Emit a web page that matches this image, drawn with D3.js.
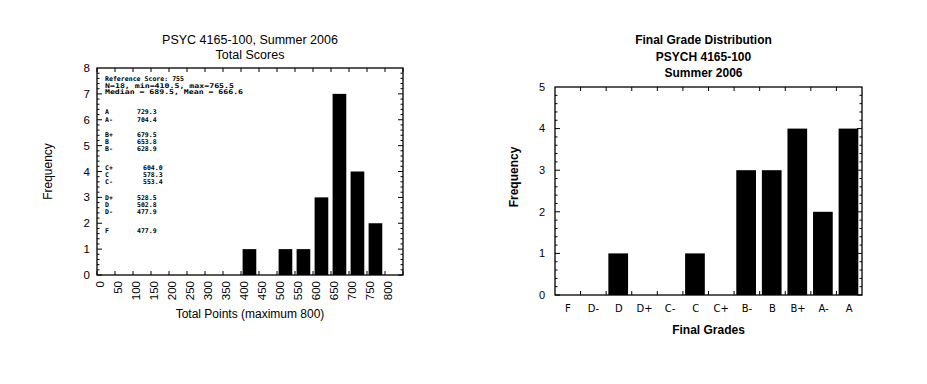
<!DOCTYPE html>
<html>
<head>
<meta charset="utf-8">
<script src="https://cdn.jsdelivr.net/npm/d3@7"></script>
<style>
  body { margin: 0; background: #fff; }
  svg { display: block; }
</style>
</head>
<body>
<div id="container"></div>
<script>
// left histogram: bin start (points) and frequency
const scoreBins = [400, 450, 500, 550, 600, 650, 700, 750];
const scoreFreq = [1, 0, 1, 1, 3, 7, 4, 2];
const scoreTicks = d3.range(0, 801, 50);

// reference notes printed inside the left plot
const noteHeader = ['Reference Score: 755', 'N=18, min=410.5, max=765.5', 'Median = 689.5, Mean = 666.6'];
const cutGrades = ['A', 'A-', 'B+', 'B', 'B-', 'C+', 'C', 'C-', 'D+', 'D', 'D-', 'F'];
const cutScores = ['729.3', '704.4', '679.5', '653.8', '628.9', '604.0', '578.3', '553.4', '528.5', '502.8', '477.9', '477.9'];

// right bar chart: final grades
const grades = ['F', 'D-', 'D', 'D+', 'C-', 'C', 'C+', 'B-', 'B', 'B+', 'A-', 'A'];
const gradeFreq = [0, 0, 1, 0, 0, 1, 0, 3, 3, 4, 2, 4];

const width = 927;
const height = 384;

const svg = d3.select('#container')
              .append('svg')
              .attr('width', width)
              .attr('height', height);

// ---------- left chart ----------
const L = {left: 97, right: 403, top: 68, bottom: 275};

const xL = d3.scaleLinear().domain([0, 850]).range([L.left, L.right]);
const yL = d3.scaleLinear().domain([0, 8]).range([L.bottom, L.top]);

const left = svg.append('g');

left.selectAll('rect.bar')
    .data(scoreBins.map((b, i) => ({bin: b, n: scoreFreq[i]})).filter(d => d.n > 0))
    .enter()
    .append('rect')
    .attr('class', 'bar')
    .attr('x', d => xL(d.bin) + 1.6)
    .attr('width', (xL(50) - xL(0)) * 0.76)
    .attr('y', d => yL(d.n))
    .attr('height', d => yL(0) - yL(d.n))
    .attr('fill', '#000');

// frame
left.append('rect')
    .attr('x', L.left).attr('y', L.top)
    .attr('width', L.right - L.left).attr('height', L.bottom - L.top)
    .attr('fill', 'none').attr('stroke', '#000').attr('stroke-width', 1.3);

// inward ticks
const tickL = left.append('g').attr('stroke', '#000').attr('stroke-width', 1);
d3.range(0, 851, 50).forEach(v => {
  tickL.append('line').attr('x1', xL(v)).attr('x2', xL(v)).attr('y1', L.top).attr('y2', L.top + 4);
  tickL.append('line').attr('x1', xL(v)).attr('x2', xL(v)).attr('y1', L.bottom).attr('y2', L.bottom - 4);
});
d3.range(0, 40).map(i => i * 0.2).forEach((v, i) => {
  const len = i % 5 === 0 ? 5 : 2.5;
  tickL.append('line').attr('x1', L.left).attr('x2', L.left + len).attr('y1', yL(v)).attr('y2', yL(v));
  tickL.append('line').attr('x1', L.right).attr('x2', L.right - len).attr('y1', yL(v)).attr('y2', yL(v));
});

// y labels
left.selectAll('text.ylab')
    .data(d3.range(0, 9))
    .enter()
    .append('text')
    .attr('class', 'ylab')
    .text(d => d)
    .attr('x', L.left - 7)
    .attr('y', d => yL(d))
    .attr('dy', '0.35em')
    .attr('text-anchor', 'end')
    .attr('font-family', 'Liberation Sans, Arial, sans-serif')
    .attr('font-size', 11.5);

// x labels, rotated
left.selectAll('text.xlab')
    .data(scoreTicks)
    .enter()
    .append('text')
    .attr('class', 'xlab')
    .text(d => d)
    .attr('transform', d => 'translate(' + (xL(d) + 3) + ',' + (L.bottom + 6) + ') rotate(-90)')
    .attr('text-anchor', 'end')
    .attr('dominant-baseline', 'central')
    .attr('font-family', 'Liberation Sans, Arial, sans-serif')
    .attr('font-size', 11.5);

left.append('text')
    .text('Total Points (maximum 800)')
    .attr('x', (L.left + L.right) / 2)
    .attr('y', 318)
    .attr('text-anchor', 'middle')
    .attr('font-family', 'Liberation Sans, Arial, sans-serif')
    .attr('font-size', 12);

left.append('text')
    .text('Frequency')
    .attr('transform', 'translate(52,' + ((L.top + L.bottom) / 2) + ') rotate(-90)')
    .attr('text-anchor', 'middle')
    .attr('font-family', 'Liberation Sans, Arial, sans-serif')
    .attr('font-size', 12);

left.append('text')
    .text('PSYC 4165-100, Summer 2006')
    .attr('x', (L.left + L.right) / 2)
    .attr('y', 44)
    .attr('text-anchor', 'middle')
    .attr('font-family', 'Liberation Sans, Arial, sans-serif')
    .attr('font-size', 12.5);

left.append('text')
    .text('Total Scores')
    .attr('x', (L.left + L.right) / 2)
    .attr('y', 59)
    .attr('text-anchor', 'middle')
    .attr('font-family', 'Liberation Sans, Arial, sans-serif')
    .attr('font-size', 12.5);

// notes
const noteFont = 'DejaVu Sans Mono, monospace';
const headerY = [81, 87.5, 94];
const headerW = [79, 129, 138];
left.selectAll('text.note')
    .data(noteHeader)
    .enter()
    .append('text')
    .attr('class', 'note')
    .text(d => d)
    .attr('x', 105)
    .attr('y', (d, i) => headerY[i])
    .attr('textLength', (d, i) => headerW[i])
    .attr('lengthAdjust', 'spacingAndGlyphs')
    .attr('font-family', noteFont)
    .attr('font-size', 6.5)
    .attr('font-weight', 'bold');

const cutY = [114, 122, 137, 144, 151, 170, 177, 184, 200, 207, 214, 233];
const cuts = left.selectAll('g.cut')
    .data(cutGrades.map((g, i) => ({g: g, s: cutScores[i], y: cutY[i], c: g[0] === 'C'})))
    .enter()
    .append('g')
    .attr('class', 'cut')
    .attr('font-family', noteFont)
    .attr('font-size', 6.5)
    .attr('font-weight', 'bold');
cuts.append('text').text(d => d.g).attr('x', 105).attr('y', d => d.y);
cuts.append('text').text(d => d.s).attr('x', d => d.c ? 143 : 137).attr('y', d => d.y);

// ---------- right chart ----------
const R = {left: 555, right: 862, top: 87, bottom: 295};

const xR = d3.scaleBand().domain(grades).range([R.left, R.right]);
const yR = d3.scaleLinear().domain([0, 5]).range([R.bottom, R.top]);

const right = svg.append('g');

right.selectAll('rect.bar')
     .data(grades.map((g, i) => ({g: g, n: gradeFreq[i]})).filter(d => d.n > 0))
     .enter()
     .append('rect')
     .attr('class', 'bar')
     .attr('x', d => xR(d.g) + 2.2)
     .attr('width', xR.bandwidth() * 0.77)
     .attr('y', d => yR(d.n))
     .attr('height', d => yR(0) - yR(d.n))
     .attr('fill', '#000');

right.append('rect')
     .attr('x', R.left).attr('y', R.top)
     .attr('width', R.right - R.left).attr('height', R.bottom - R.top)
     .attr('fill', 'none').attr('stroke', '#000').attr('stroke-width', 1.3);

const tickR = right.append('g').attr('stroke', '#000').attr('stroke-width', 1);
grades.slice(1).forEach(g => {
  tickR.append('line').attr('x1', xR(g)).attr('x2', xR(g)).attr('y1', R.top).attr('y2', R.top + 4);
  tickR.append('line').attr('x1', xR(g)).attr('x2', xR(g)).attr('y1', R.bottom).attr('y2', R.bottom - 4);
});
d3.range(0, 25).map(i => i * 0.2).forEach((v, i) => {
  const len = i % 5 === 0 ? 5 : 2.5;
  tickR.append('line').attr('x1', R.left).attr('x2', R.left + len).attr('y1', yR(v)).attr('y2', yR(v));
  tickR.append('line').attr('x1', R.right).attr('x2', R.right - len).attr('y1', yR(v)).attr('y2', yR(v));
});

right.selectAll('text.ylab')
     .data(d3.range(0, 6))
     .enter()
     .append('text')
     .attr('class', 'ylab')
     .text(d => d)
     .attr('x', R.left - 10)
     .attr('y', d => yR(d))
     .attr('dy', '0.35em')
     .attr('text-anchor', 'end')
     .attr('font-family', 'Liberation Sans, Arial, sans-serif')
     .attr('font-size', 11);

right.selectAll('text.xlab')
     .data(grades)
     .enter()
     .append('text')
     .attr('class', 'xlab')
     .text(d => d)
     .attr('x', d => xR(d) + xR.bandwidth() / 2)
     .attr('y', 312)
     .attr('text-anchor', 'middle')
     .attr('font-family', 'DejaVu Sans, sans-serif')
     .attr('font-size', 10);

right.append('text')
     .text('Final Grades')
     .attr('x', (R.left + R.right) / 2)
     .attr('y', 334)
     .attr('text-anchor', 'middle')
     .attr('font-family', 'Liberation Sans, Arial, sans-serif')
     .attr('font-weight', 'bold')
     .attr('font-size', 12);

right.append('text')
     .text('Frequency')
     .attr('transform', 'translate(518,' + ((R.top + R.bottom) / 2 - 14) + ') rotate(-90)')
     .attr('text-anchor', 'middle')
     .attr('font-family', 'Liberation Sans, Arial, sans-serif')
     .attr('font-weight', 'bold')
     .attr('font-size', 12);

const titleR = ['Final Grade Distribution', 'PSYCH 4165-100', 'Summer 2006'];
right.selectAll('text.title')
     .data(titleR)
     .enter()
     .append('text')
     .attr('class', 'title')
     .text(d => d)
     .attr('x', (R.left + R.right) / 2 - 5)
     .attr('y', (d, i) => 44 + i * 16.5)
     .attr('text-anchor', 'middle')
     .attr('font-family', 'Liberation Sans, Arial, sans-serif')
     .attr('font-weight', 'bold')
     .attr('font-size', 12);
</script>
</body>
</html>
